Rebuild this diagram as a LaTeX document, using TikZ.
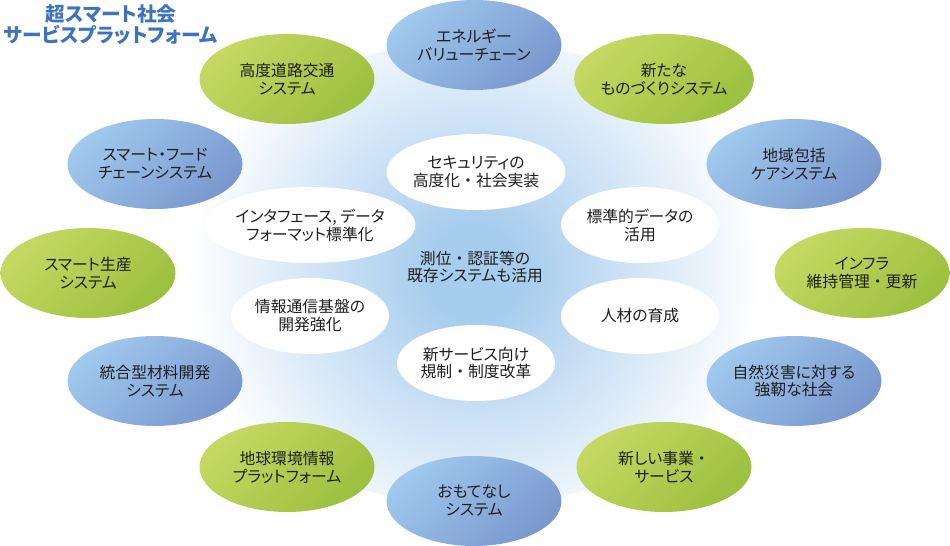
\documentclass[tikz,border=0pt]{standalone}
\usepackage{fontspec}
\setmainfont{Noto Sans CJK JP}[RawFeature=+palt]
\newfontfamily\fullw{Noto Sans CJK JP}
\usetikzlibrary{shapes.geometric}

\definecolor{glowblue}{RGB}{166,204,238}
\definecolor{bluelt}{RGB}{160,201,238}
\definecolor{bluedk}{RGB}{122,152,206}
\definecolor{greenlt}{RGB}{198,216,98}
\definecolor{greendk}{RGB}{156,192,63}
\definecolor{titleblue}{RGB}{62,115,190}
\definecolor{txtgray}{RGB}{30,30,30}
\pgfdeclareradialshading{ringglow}{\pgfpoint{0bp}{0bp}}{color(0bp)=(glowblue); color(4bp)=(glowblue); color(25bp)=(white); color(50bp)=(white)}
\newcommand{\dt}{{\fullw ・}}

\begin{document}
\begin{tikzpicture}[x=0.02cm, y=-0.02cm, every node/.style={ellipse, align=center, inner sep=0pt, text=txtgray, font=\fontsize{9}{10.2}\selectfont},
    blueell/.style={minimum width=3.5cm, minimum height=1.8cm, top color=bluelt, bottom color=bluedk, shading angle=45},
    greenell/.style={minimum width=3.5cm, minimum height=1.8cm, top color=greenlt, bottom color=greendk, shading angle=45},
    whiteell/.style={minimum width=3.16cm, minimum height=1.52cm, fill=white}]
        \useasboundingbox (0,0) rectangle (950,546);
        % light blue glow behind the ring
        \begin{scope}
            \clip (475,273) ellipse [x radius=340, y radius=230];
            \shade[shading=ringglow] (475,273) circle [radius=285];
        \end{scope}

        \node[text=titleblue, font=\bfseries\fontsize{11.2}{12}\selectfont] (T) at (111,25) {超スマート社会\\サービスプラットフォーム};

        \node[blueell] (S1) at (474,45) {エネルギー\\バリューチェーン};
        \node[greenell] (S2) at (664,79) {新たな\\ものづくりシステム};
        \node[blueell] (S3) at (794,164) {地域包括\\ケアシステム};
        \node[greenell] (S4) at (862,273) {インフラ\\維持管理\dt 更新};
        \node[blueell] (S5) at (794,381) {自然災害に対する\\強靭な社会};
        \node[greenell] (S6) at (664,467) {新しい事業\dt\\サービス};
        \node[blueell] (S7) at (474,501) {おもてなし\\システム};
        \node[greenell] (S8) at (287,467) {地球環境情報\\プラットフォーム};
        \node[blueell] (S9) at (155,381) {統合型材料開発\\システム};
        \node[greenell] (S10) at (88,273) {スマート生産\\システム};
        \node[blueell] (S11) at (155,164) {スマート・フード\\チェーンシステム};
        \node[greenell] (S12) at (287,79) {高度道路交通\\システム};

        \node[whiteell] (K1) at (476,172) {セキュリティの\\高度化\dt 社会実装};
        \node[whiteell] (K2) at (640,225) {標準的データの\\活用};
        \node[whiteell] (K3) at (640,316) {人材の育成};
        \node[whiteell] (K4) at (476,363) {新サービス向け\\規制\dt 制度改革};
        \node[whiteell] (K5) at (310,316) {情報通信基盤の\\開発強化};
        \node[whiteell] (K6) at (310,225) {インタフェース, データ\\フォーマット標準化};
        \node (C) at (475,267) {測位\dt 認証等の\\既存システムも活用};
    \end{tikzpicture}
\end{document}
